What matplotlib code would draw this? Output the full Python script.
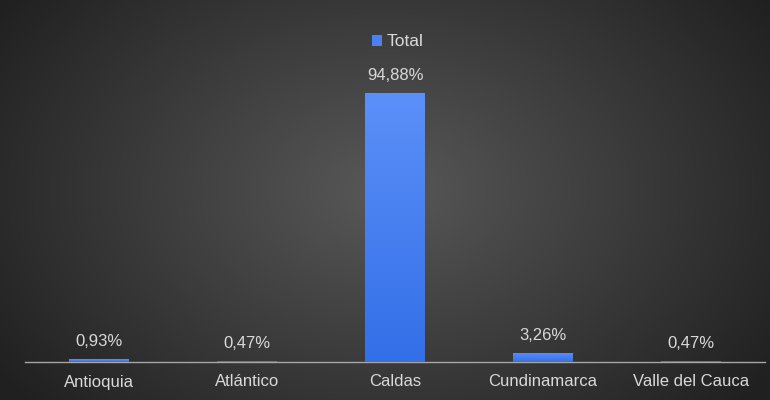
import numpy as np
import matplotlib
matplotlib.use("Agg")
import matplotlib.pyplot as plt

categories = ["Antioquia", "Atlántico", "Caldas", "Cundinamarca", "Valle del Cauca"]
values = [0.93, 0.47, 94.88, 3.26, 0.47]
labels = ["0,93%", "0,47%", "94,88%", "3,26%", "0,47%"]
series_name = "Total"

plt.rcParams['font.family'] = ['Liberation Sans', 'DejaVu Sans']
txt = "#d9d9d9"
fs = 12

fig = plt.figure(figsize=(7.7, 4.0), dpi=100)

# radial background gradient
bg = fig.add_axes([0, 0, 1, 1], zorder=-10)
yy, xx = np.mgrid[0:400, 0:770]
r = np.sqrt(((xx - 385) / 470.0) ** 2 + ((yy - 190) / 330.0) ** 2)
r = np.clip(r, 0, 1)
c0 = np.array([0x58, 0x58, 0x58]) / 255
c1 = np.array([0x20, 0x20, 0x20]) / 255
img = c0[None, None, :] * (1 - r[..., None]) + c1[None, None, :] * r[..., None]
bg.imshow(img, aspect="auto", extent=[0, 1, 0, 1])
bg.axis("off")

ax = fig.add_axes([25 / 770, 38 / 400, 740 / 770, 283.5 / 400])
ax.patch.set_alpha(0)
x = np.arange(len(categories))
bars = ax.bar(x, values, width=0.4, color="#4a80f0", label=series_name, zorder=2)

# gradient fill for bars
grad = np.linspace(0, 1, 256)[:, None]
top = np.array([0x5c, 0x90, 0xf9]) / 255
bot = np.array([0x33, 0x6f, 0xe8]) / 255
gimg = top[None, None, :] * (1 - grad[..., None]) + bot[None, None, :] * grad[..., None]
for b in bars:
    bx, by = b.get_x(), b.get_y()
    im = ax.imshow(gimg, aspect="auto", extent=[bx, bx + b.get_width(), by, by + b.get_height()], zorder=3)
    im.set_clip_path(b)

ax.set_xlim(-0.5, len(categories) - 0.5)
ax.set_ylim(0, 100)
for i, (v, l) in enumerate(zip(values, labels)):
    ax.text(i, v + 3.5, l, ha="center", va="bottom", color=txt, fontsize=fs)

for s in ["top", "right", "left"]:
    ax.spines[s].set_visible(False)
ax.spines["bottom"].set_color("#a6a6a6")
ax.spines["bottom"].set_linewidth(1)
ax.set_yticks([])
ax.set_xticks(x)
ax.set_xticklabels(categories, color=txt, fontsize=fs)
ax.tick_params(axis="x", length=0, pad=9)

leg = fig.legend(handles=[bars], labels=[series_name], loc="center", bbox_to_anchor=(398 / 770, 1 - 42 / 400),
                 frameon=False, fontsize=fs + 0.5, handlelength=0.55, handleheight=0.55, handletextpad=0.3,
                 labelcolor=txt, borderpad=0)

fig.savefig("out.png", dpi=100)
